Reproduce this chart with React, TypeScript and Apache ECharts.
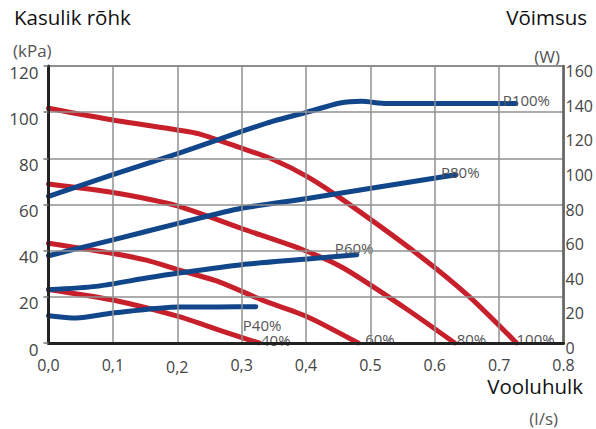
import React, { useEffect, useRef } from "react";
import * as echarts from "echarts";

// x tick labels (the original mixes decimal commas and points)
const xTickLabels = ["0,0", "0,1", "0,2", "0,3", "0,4", "0.5", "0.6", "0.7", "0.8"];

// Pressure curves [flow l/s, kPa]
const pressure100 = [[0, 101.7], [0.1, 96.6], [0.2, 92.3], [0.234, 90.6], [0.3, 84.4], [0.348, 79.6], [0.402, 72.1], [0.458, 61.9], [0.571, 39], [0.654, 20], [0.727, 0]];
const pressure80 = [[0, 68.9], [0.1, 65.2], [0.2, 59.4], [0.3, 49.6], [0.396, 40.3], [0.458, 32.5], [0.551, 15.7], [0.631, 0]];
const pressure60 = [[0, 43.2], [0.1, 38.8], [0.152, 35.9], [0.203, 31.6], [0.265, 26.5], [0.332, 18.6], [0.402, 11.4], [0.481, 0]];
const pressure40 = [[0, 23.2], [0.1, 18.6], [0.203, 11.4], [0.265, 5.6], [0.327, 0]];

// Power curves [flow l/s, W]
const power100 = [[0, 84.7], [0.1, 97.2], [0.203, 109.7], [0.3, 122.2], [0.348, 128], [0.402, 133.4], [0.453, 138.6], [0.486, 139.6], [0.525, 138.3], [0.726, 138.3]];
const power80 = [[0, 50.4], [0.1, 59.6], [0.203, 69.2], [0.3, 77.8], [0.402, 83.5], [0.633, 97.2]];
const power60 = [[0, 30.8], [0.074, 32.7], [0.152, 37.5], [0.203, 40.4], [0.3, 45.2], [0.402, 48.5], [0.479, 51]];
const power40 = [[0, 15.8], [0.043, 14.4], [0.1, 17.3], [0.203, 20.8], [0.265, 20.8], [0.322, 21]];

const RED = "#c8202b";
const BLUE = "#11468a";
const FONT = "Open Sans";
const LABEL_GRAY = "#555";

function lineSeries(name: string, data: number[][], color: string, yAxisIndex: number, offset: number[]) {
  return {
    name,
    type: "line",
    yAxisIndex,
    data,
    smooth: 0.25,
    symbol: "none",
    lineStyle: { color, width: 5, cap: "round", join: "round" },
    endLabel: {
      show: true,
      formatter: name,
      distance: 0,
      offset,
      align: "left",
      verticalAlign: "middle",
      color: LABEL_GRAY,
      fontSize: 15,
      lineHeight: 15,
      fontFamily: FONT,
    },
  };
}

export default function App() {
  const ref = useRef<HTMLDivElement>(null);
  useEffect(() => {
    document.body.style.margin = "0";
    const chart = echarts.init(ref.current!, null, { renderer: "svg" });
    chart.setOption({
      animation: false,
      backgroundColor: "#fff",
      textStyle: { fontFamily: FONT },
      grid: {
        left: 48.5,
        right: 32.5,
        top: 66,
        bottom: 86,
        show: true,
        borderColor: "#888",
        borderWidth: 2,
        containLabel: false,
      },
      xAxis: {
        type: "value",
        min: 0,
        max: 0.8,
        interval: 0.1,
        z: 10,
        axisLine: { show: true, lineStyle: { color: "#222", width: 3 } },
        axisTick: { show: false },
        splitLine: { show: true, lineStyle: { color: "#909090", width: 1.5 } },
        axisLabel: {
          margin: 16,
          fontSize: 16,
          lineHeight: 12,
          color: "#444",
          fontFamily: FONT,
          formatter: (v: number) => {
            const i = Math.round(v * 10);
            return i === 2 ? "{low|" + xTickLabels[i] + "}" : xTickLabels[i];
          },
          rich: { low: { fontSize: 16, lineHeight: 12, color: "#444", fontFamily: FONT, padding: [4, 0, 0, 0] } },
        },
      },
      yAxis: [
        {
          type: "value",
          min: 0,
          max: 120,
          interval: 20,
          position: "left",
          z: 10,
          axisLine: { show: true, lineStyle: { color: "#222", width: 3 } },
          axisTick: { show: true, length: 5, lineStyle: { color: "#777", width: 1.5 } },
          splitLine: { show: true, lineStyle: { color: "#909090", width: 1.5 } },
          axisLabel: {
            margin: 10,
            fontSize: 17,
            lineHeight: 12,
            verticalAlign: "top",
            color: "#444",
            fontFamily: FONT,
          },
        },
        {
          type: "value",
          min: 0,
          max: 160,
          interval: 20,
          position: "right",
          z: 10,
          axisLine: { show: true, lineStyle: { color: "#666", width: 2.5 } },
          axisTick: { show: false },
          splitLine: { show: false },
          axisLabel: {
            margin: 2,
            fontSize: 16,
            lineHeight: 10,
            verticalAlign: "top",
            color: "#444",
            fontFamily: FONT,
          },
        },
      ],
      series: [
        lineSeries("100%", pressure100, RED, 0, [0, -4]),
        lineSeries("80%", pressure80, RED, 0, [2, -4]),
        lineSeries("60%", pressure60, RED, 0, [7, -4]),
        lineSeries("40%", pressure40, RED, 0, [2, -3]),
        lineSeries("P100%", power100, BLUE, 1, [-13, -4]),
        lineSeries("P80%", power80, BLUE, 1, [-15, -3]),
        lineSeries("P60%", power60, BLUE, 1, [-22, -7]),
        lineSeries("P40%", power40, BLUE, 1, [-13, 18]),
      ],
      graphic: [
        { type: "text", left: 14, top: 5, style: { text: "Kasulik rõhk", fontSize: 20.5, lineHeight: 24, fontFamily: FONT, fill: "#111" } },
        { type: "text", left: 13, top: 39, style: { text: "(kPa)", fontSize: 17, lineHeight: 22, fontFamily: FONT, fill: "#555" } },
        { type: "text", right: 9, top: 5, style: { text: "Võimsus", fontSize: 20.5, lineHeight: 24, fontFamily: FONT, fill: "#111" } },
        { type: "text", right: 36, top: 45, style: { text: "(W)", fontSize: 17, lineHeight: 22, fontFamily: FONT, fill: "#555" } },
        { type: "text", right: 13, top: 375, style: { text: "Vooluhulk", fontSize: 20.5, lineHeight: 20, fontFamily: FONT, fill: "#111" } },
        { type: "text", right: 38, top: 407, style: { text: "(l/s)", fontSize: 17, lineHeight: 22, fontFamily: FONT, fill: "#555" } },
      ],
    });
    return () => chart.dispose();
  }, []);
  return <div ref={ref} style={{ position: "fixed", left: 0, top: 0, width: 596, height: 429 }} />;
}
